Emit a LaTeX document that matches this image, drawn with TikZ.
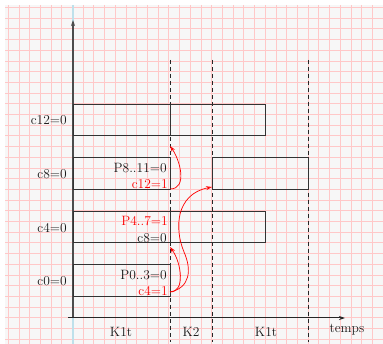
\documentclass[tikz,border=0pt]{standalone}
\usepackage{xcolor}
\usetikzlibrary{positioning,arrows.meta}
\definecolor{gridpink}{RGB}{255,200,200}
\definecolor{paper}{RGB}{247,247,247}
\definecolor{axisblue}{RGB}{190,225,235}
\tikzset{
  lbl/.style={inner sep=1pt,text=black!90,font=\fontsize{13.5}{16}\selectfont},
  slot/.style={draw=black!80,line width=1pt},
  sep/.style={black!85,line width=0.9pt,dash pattern=on 4pt off 3pt},
  flow/.style={red,line width=0.7pt,-{Stealth[open,length=6pt,width=4pt]}}
}
\begin{document}
\begin{tikzpicture}[x=1pt,y=-1pt]
\useasboundingbox (0,0) rectangle (383,344);
% graph paper
\fill[paper] (5,5) rectangle (383,344);
\foreach \i in {0,...,34} \draw[gridpink,line width=1pt] (8.3+10.71*\i,5)--(8.3+10.71*\i,344);
\foreach \j in {0,...,31} \draw[gridpink,line width=1pt] (5,7.6+10.7*\j)--(383,7.6+10.7*\j);
\draw[axisblue,line width=1.1pt] (73,5)--(73,344);
% axes
\coordinate (o) at (73,318);
\coordinate (ytop) at (73,20);
\coordinate (xl) at (68,318);
\coordinate (xr) at (345,318);
\draw[black!70,line width=1.2pt,-{Stealth[length=6pt,width=4pt]}] (o)--(ytop);
\draw[black!85,line width=1pt,-{Stealth[length=6pt,width=4pt]}] (xl)--(xr);
\foreach \x in {170,212,308} \draw[sep] (\x,60)--(\x,342);
% slots
\draw[slot] (73,105) rectangle (265,136) (170,105)--(170,136);
\draw[slot] (73,158) rectangle (170,190);
\draw[slot] (212,158) rectangle (308,190);
\draw[slot] (73,212) rectangle (265,243) (170,212)--(170,243);
\draw[slot] (73,265) rectangle (170,297);
% row labels
\node[lbl,left] (r12) at (68,120) {c12=0};
\node[lbl,left] (r8) at (68,174) {c8=0};
\node[lbl,left] (r4) at (68,228) {c4=0};
\node[lbl,left] (r0) at (68,281) {c0=0};
% inner labels
\node[lbl,left] (p8) at (168,168) {P8..11=0};
\node[lbl,left,text=red] (c12) at (169,184) {c12=1};
\node[lbl,left,text=red] (p4) at (169,221) {P4..7=1};
\node[lbl,left] (c8) at (168,238) {c8=0};
\node[lbl,left] (p0) at (168,275) {P0..3=0};
\node[lbl,left,text=red] (c4) at (169,291) {c4=1};
% red links
\coordinate (s12) at (170,189);
\coordinate (t12) at (170,146);
\coordinate (s4) at (170,292);
\coordinate (t4) at (170,247);
\coordinate (t8) at (212,187);
\draw[flow] (s12) .. controls (188,189) and (180,160) .. (t12);
\draw[flow] (s4) .. controls (186,292) and (181,262) .. (t4);
\draw[flow] (s4) .. controls (190,288) and (192,270) .. (184,252)
  .. controls (174,228) and (176,194) .. (t8);
% phases
\node[lbl] (k1a) at (121,332) {K1t};
\node[lbl] (k2) at (191,332) {K2};
\node[lbl] (k1b) at (266,332) {K1t};
\node[lbl] (tps) at (347,330) {temps};
\end{tikzpicture}
\end{document}
